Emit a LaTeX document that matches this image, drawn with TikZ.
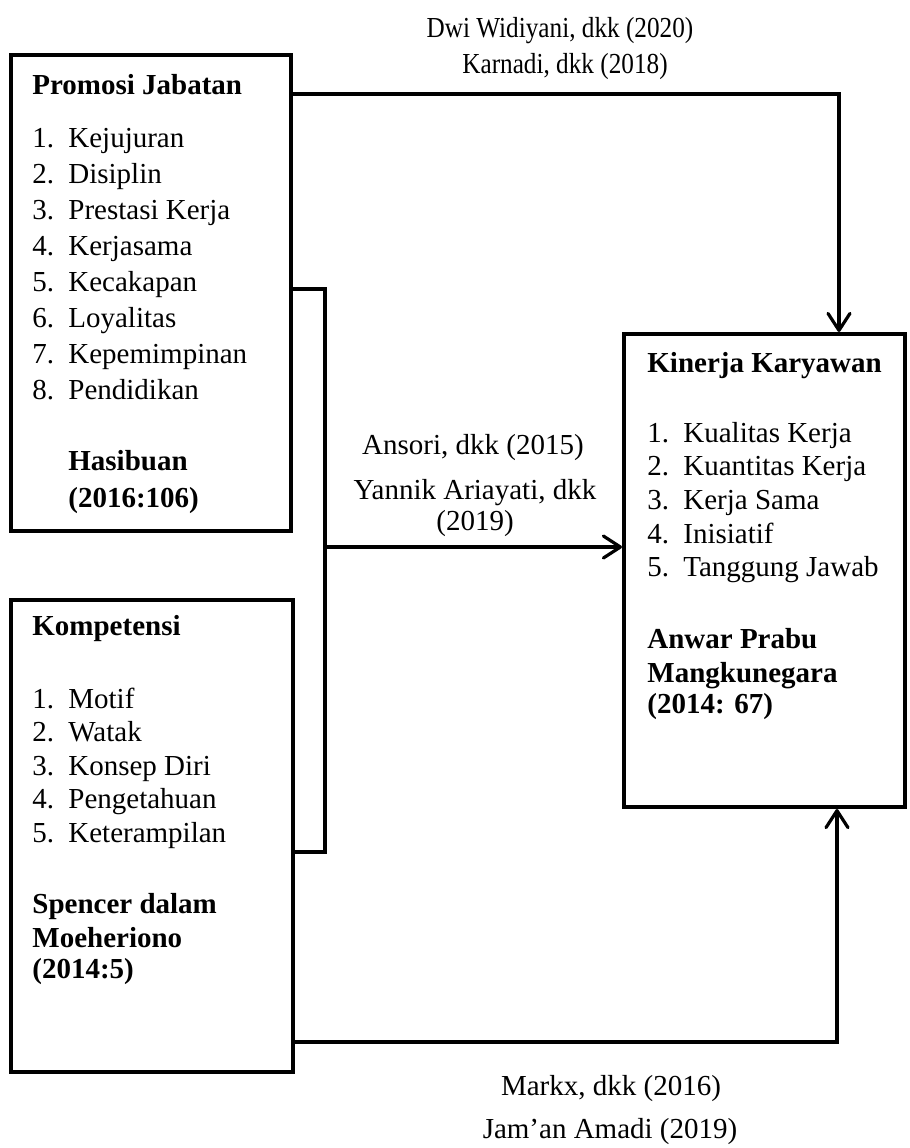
\documentclass[tikz,border=0pt]{standalone}
\usepackage{fontspec}
\setmainfont{Liberation Serif}
\newfontfamily\narrowserif[FakeStretch=0.87]{Liberation Serif}
\usetikzlibrary{arrows.meta,positioning,calc}
\tikzstyle{frame} = [draw, line width=2pt, rectangle, inner sep=0pt]
\tikzstyle{link} = [line width=1.6pt]
\tikzstyle{arrowtip} = [-{Straight Barb[length=8.5pt,width=11pt,round]}]
\tikzstyle{txt} = [anchor=base west, inner sep=0pt, font=\fontsize{14.5}{17.5}\selectfont]
\tikzstyle{cite} = [anchor=base, inner sep=0pt, font=\fontsize{14.5}{17.5}\selectfont]

\begin{document}
\begin{tikzpicture}[x=0.5pt, y=-0.5pt]
    \useasboundingbox (0,0) rectangle (910,1148);

    % Promosi Jabatan box
    \node[frame, minimum width=140pt, minimum height=238pt] (promosi) at (151,293) {};
    \node[txt] (promosiT) at (32,94) {\bfseries Promosi Jabatan};
    \foreach \i/\t in {1/Kejujuran,2/Disiplin,3/Prestasi Kerja,4/Kerjasama,5/Kecakapan,6/Loyalitas,7/Kepemimpinan,8/Pendidikan} {
        \node[txt] (pn\i) at (32,{147+36*(\i-1)}) {\i.};
        \node[txt] (pi\i) at (68,{147+36*(\i-1)}) {\t};
    }
    \node[txt] (promosiA) at (68,470) {\bfseries Hasibuan};
    \node[txt] (promosiB) at (68,507) {\bfseries (2016:106)};

    % Kompetensi box
    \node[frame, minimum width=141pt, minimum height=236pt] (kompetensi) at (152,836) {};
    \node[txt] (kompT) at (32,635) {\bfseries Kompetensi};
    \foreach \i/\t in {1/Motif,2/Watak,3/Konsep Diri,4/Pengetahuan,5/Keterampilan} {
        \node[txt] (kn\i) at (32,{708+33.5*(\i-1)}) {\i.};
        \node[txt] (ki\i) at (68,{708+33.5*(\i-1)}) {\t};
    }
    \node[txt] (kompA) at (32,913) {\bfseries Spencer dalam};
    \node[txt] (kompB) at (32,947) {\bfseries Moeheriono};
    \node[txt] (kompC) at (32,978) {\bfseries (2014:5)};

    % Kinerja Karyawan box
    \node[frame, minimum width=140.5pt, minimum height=236.5pt] (kinerja) at (764.5,570.5) {};
    \node[txt] (kinT) at (647,372) {\bfseries Kinerja Karyawan};
    \foreach \i/\t in {1/Kualitas Kerja,2/Kuantitas Kerja,3/Kerja Sama,4/Inisiatif,5/Tanggung Jawab} {
        \node[txt] (jn\i) at (647,{442+33.7*(\i-1)}) {\i.};
        \node[txt] (ji\i) at (683,{442+33.7*(\i-1)}) {\t};
    }
    \node[txt] (kinA) at (647,648) {\bfseries Anwar Prabu};
    \node[txt] (kinB) at (647,682) {\bfseries Mangkunegara};
    \node[txt] (kinC) at (647,713) {\bfseries (2014: 67)};

    % Promosi -> Kinerja (top)
    \coordinate (t1) at (839,94);
    \draw[link, arrowtip] (promosi.east |- t1) -- (t1) -- (kinerja.north -| t1);
    \node[cite] (citeA) at (560,37) {\narrowserif Dwi Widiyani, dkk (2020)};
    \node[cite] (citeB) at (565,73) {\narrowserif Karnadi, dkk (2018)};

    % Promosi + Kompetensi -> Kinerja (middle)
    \coordinate (j1) at (325,289);
    \coordinate (j2) at (325,852);
    \coordinate (j3) at (325,547);
    \draw[link] (promosi.east |- j1) -- (j1) -- (j2) -- (kompetensi.east |- j2);
    \draw[link, arrowtip] (j3) -- (kinerja.west |- j3);
    \node[cite] (citeC) at (473,454) {Ansori, dkk (2015)};
    \node[cite] (citeD) at (475,499) {Yannik Ariayati, dkk};
    \node[cite] (citeE) at (475,530) {(2019)};

    % Kompetensi -> Kinerja (bottom)
    \coordinate (b1) at (837,1042);
    \draw[link, arrowtip] (kompetensi.east |- b1) -- (b1) -- (kinerja.south -| b1);
    \node[cite] (citeF) at (611,1095) {Markx, dkk (2016)};
    \node[cite] (citeG) at (610,1138) {Jam’an Amadi (2019)};
\end{tikzpicture}
\end{document}
